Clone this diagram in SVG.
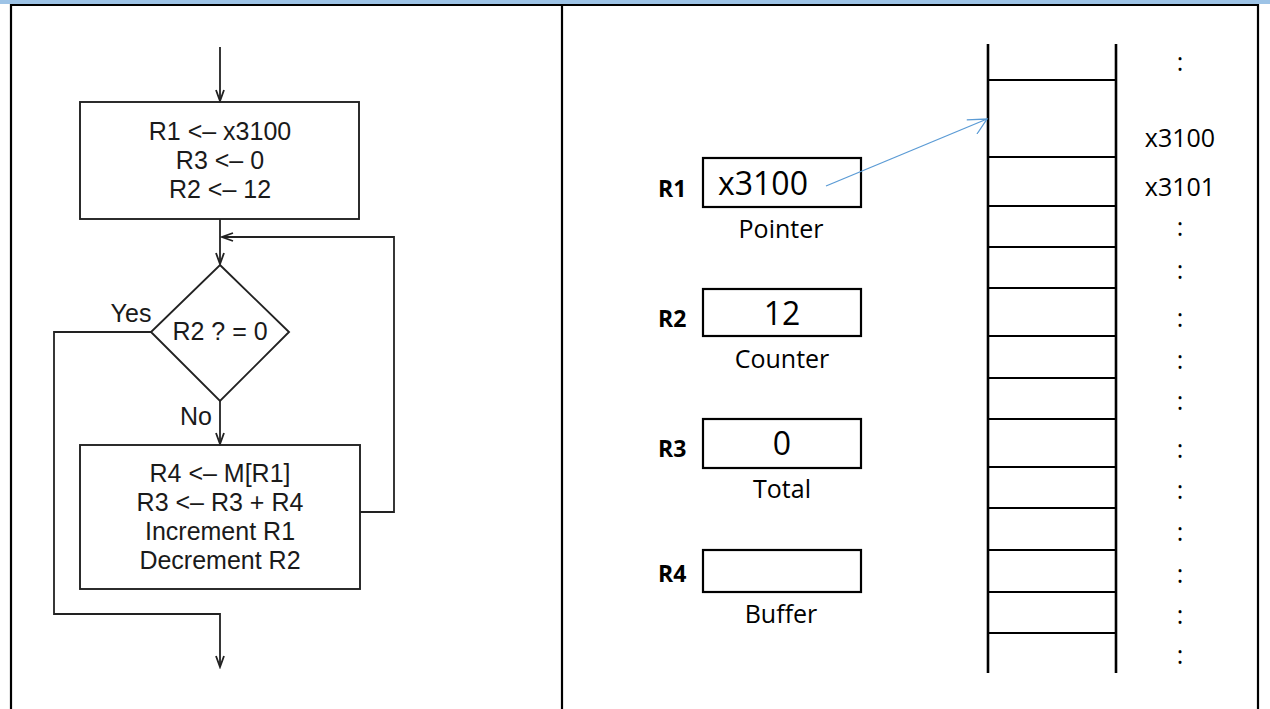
<svg xmlns="http://www.w3.org/2000/svg" width="1270" height="709" viewBox="0 0 1270 709">
<style>
.frame{stroke:#000;stroke-width:2.2;fill:none}
.fc{stroke:#222;stroke-width:1.8;fill:none}
.fcbox{stroke:#222;stroke-width:1.9;fill:none}
.fct{font-family:"Liberation Sans",Arial,sans-serif;font-size:25px;fill:#1a1a1a;text-anchor:middle}
.reg{stroke:#000;stroke-width:2.2;fill:none}
.rl{font-family:"Open Sans",sans-serif;font-weight:bold;font-size:23px;fill:#000}
.rv{font-family:"Open Sans",sans-serif;font-size:32px;fill:#000}
.cap{font-family:"Open Sans",sans-serif;font-size:25px;fill:#000;text-anchor:middle}
.mem{stroke:#000;stroke-width:2.6;fill:none}
.cell{stroke:#000;stroke-width:1.8;fill:none}
.ml{font-family:"Open Sans",sans-serif;font-size:25px;fill:#000;text-anchor:middle}
</style>
<defs>
<marker id="ah" markerUnits="userSpaceOnUse" viewBox="-12 -6 14 12" refX="0" refY="0" markerWidth="14" markerHeight="12" orient="auto">
<path d="M-11,-4 L0,0 L-11,4" fill="none" stroke="#222" stroke-width="1.8"/>
</marker>
<marker id="bh" markerUnits="userSpaceOnUse" viewBox="-20 -10 22 20" refX="0" refY="0" markerWidth="22" markerHeight="20" orient="auto">
<path d="M-19,-7 L0,0 L-15,10" fill="none" stroke="#5B9BD5" stroke-width="1.3"/>
</marker>
</defs>
<rect x="0" y="0" width="1270" height="4" fill="#9DC3E6"/>
<g id="table">
<line class="frame" x1="10" y1="5" x2="1259" y2="5"/>
<line class="frame" x1="11" y1="4" x2="11" y2="709"/>
<line class="frame" x1="562" y1="4" x2="562" y2="709"/>
<line class="frame" x1="1258" y1="4" x2="1258" y2="709"/>
</g>
<g id="init">
<rect class="fcbox" x="80" y="102" width="279" height="117"/>
<text class="fct" x="220" y="140">R1 &lt;– x3100</text>
<text class="fct" x="220" y="169">R3 &lt;– 0</text>
<text class="fct" x="220" y="198">R2 &lt;– 12</text>
</g>
<g id="decision">
<polygon class="fcbox" points="220,265 289,332 220,401 151,332"/>
<text class="fct" x="220" y="340" font-size="24">R2 ? = 0</text>
<text class="fct" x="131" y="322" font-size="22">Yes</text>
<text class="fct" x="196" y="425" font-size="24">No</text>
</g>
<g id="loopbody">
<rect class="fcbox" x="80" y="445" width="280" height="144"/>
<text class="fct" x="220" y="482">R4 &lt;– M[R1]</text>
<text class="fct" x="220" y="511">R3 &lt;– R3 + R4</text>
<text class="fct" x="220" y="540">Increment R1</text>
<text class="fct" x="220" y="569">Decrement R2</text>
</g>
<g id="r1">
<text class="rl" x="658" y="197">R1</text>
<rect class="reg" x="703" y="158" width="158" height="49"/>
<text class="rv" x="718" y="195">x3100</text>
<text class="cap" x="781" y="238">Pointer</text>
</g>
<g id="r2">
<text class="rl" x="658" y="327">R2</text>
<rect class="reg" x="703" y="289" width="158" height="47"/>
<text class="rv" x="782" y="325" text-anchor="middle">12</text>
<text class="cap" x="782" y="368">Counter</text>
</g>
<g id="r3">
<text class="rl" x="658" y="457">R3</text>
<rect class="reg" x="703" y="419" width="158" height="49"/>
<text class="rv" x="782" y="455" text-anchor="middle">0</text>
<text class="cap" x="782" y="498">Total</text>
</g>
<g id="r4">
<text class="rl" x="658" y="582">R4</text>
<rect class="reg" x="703" y="550" width="158" height="42"/>
<text class="cap" x="781" y="623">Buffer</text>
</g>
<g id="memory">
<line class="mem" x1="988" y1="44" x2="988" y2="673"/>
<line class="mem" x1="1116" y1="44" x2="1116" y2="673"/>
<g class="cell">
<line x1="988" y1="80" x2="1116" y2="80"/>
<line x1="988" y1="157" x2="1116" y2="157"/>
<line x1="988" y1="206" x2="1116" y2="206"/>
<line x1="988" y1="247" x2="1116" y2="247"/>
<line x1="988" y1="288" x2="1116" y2="288"/>
<line x1="988" y1="336" x2="1116" y2="336"/>
<line x1="988" y1="378" x2="1116" y2="378"/>
<line x1="988" y1="419" x2="1116" y2="419"/>
<line x1="988" y1="467" x2="1116" y2="467"/>
<line x1="988" y1="508" x2="1116" y2="508"/>
<line x1="988" y1="550" x2="1116" y2="550"/>
<line x1="988" y1="592" x2="1116" y2="592"/>
<line x1="988" y1="633" x2="1116" y2="633"/>
</g>
<text class="ml" x="1180" y="71">:</text>
<text class="ml" x="1180" y="147">x3100</text>
<text class="ml" x="1180" y="196">x3101</text>
<text class="ml" x="1180" y="236">:</text>
<text class="ml" x="1180" y="279">:</text>
<text class="ml" x="1180" y="327">:</text>
<text class="ml" x="1180" y="369">:</text>
<text class="ml" x="1180" y="410">:</text>
<text class="ml" x="1180" y="458">:</text>
<text class="ml" x="1180" y="499">:</text>
<text class="ml" x="1180" y="541">:</text>
<text class="ml" x="1180" y="583">:</text>
<text class="ml" x="1180" y="624">:</text>
<text class="ml" x="1180" y="664">:</text>
</g>
<g id="connectors">
<line class="fc" x1="220" y1="47" x2="220" y2="101" marker-end="url(#ah)"/>
<line class="fc" x1="220" y1="219" x2="220" y2="264" marker-end="url(#ah)"/>
<polyline class="fc" points="360,512 394,512 394,237 222,237" marker-end="url(#ah)"/>
<line class="fc" x1="220" y1="401" x2="220" y2="444" marker-end="url(#ah)"/>
<polyline class="fc" points="151,332 54,332 54,614 220,614 220,667" marker-end="url(#ah)"/>
<line x1="826" y1="186" x2="987" y2="119" stroke="#5B9BD5" stroke-width="1.3" marker-end="url(#bh)"/>
</g>
</svg>
